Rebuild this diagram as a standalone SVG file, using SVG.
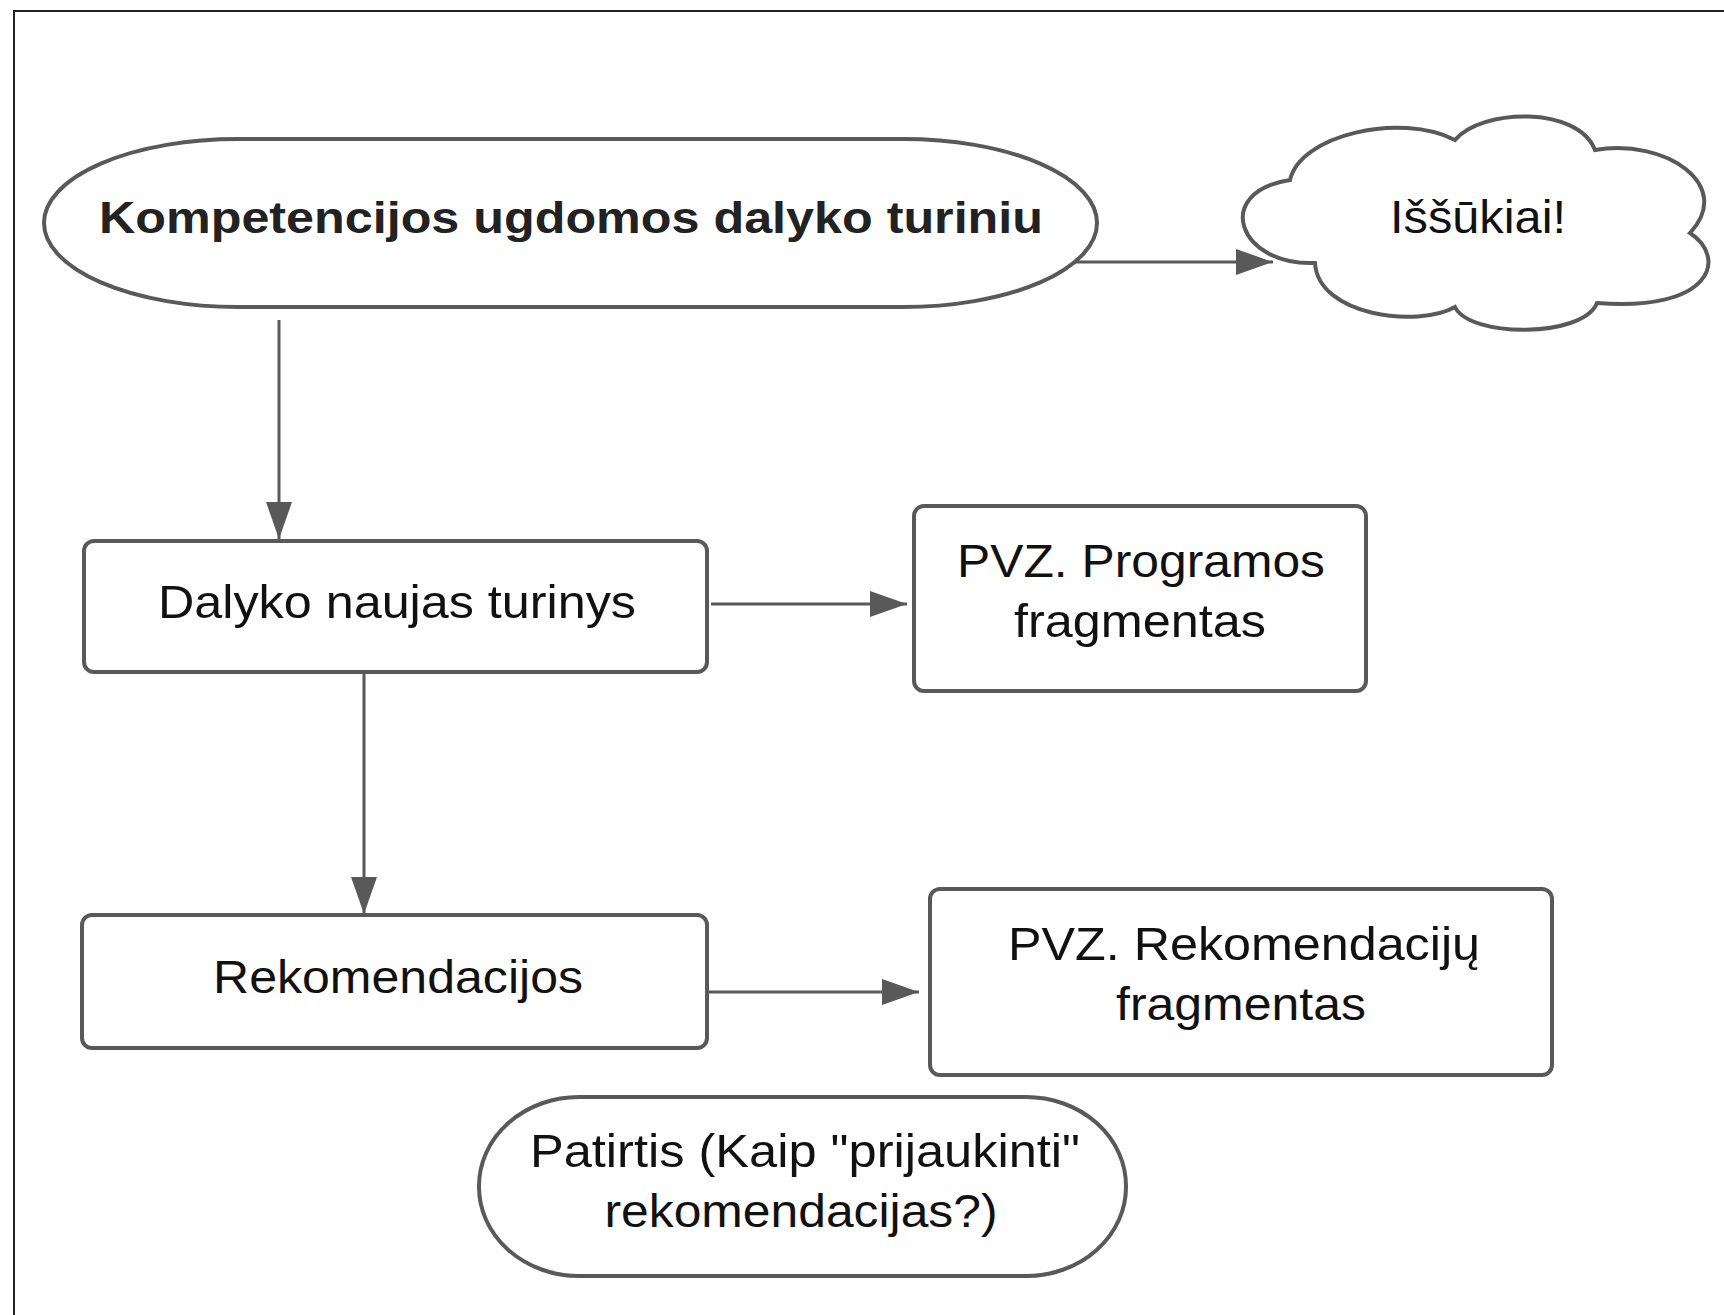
<svg xmlns="http://www.w3.org/2000/svg" width="1724" height="1315" viewBox="0 0 1724 1315">
  <style>
    .shape { fill: #ffffff; stroke: #595959; stroke-width: 4; }
    .edge { fill: none; stroke: #595959; stroke-width: 3; }
    .label { font-family: "Liberation Sans", Arial, sans-serif; font-size: 46px; fill: #111111; text-anchor: middle; }
    .bold { font-weight: bold; font-size: 44px; fill: #222222; }
  </style>
  <defs>
    <marker id="arrow" markerUnits="userSpaceOnUse" markerWidth="38" markerHeight="28" refX="37" refY="13" orient="auto">
      <path d="M0,0 L37,13 L0,26 Z" fill="#595959"/>
    </marker>
  </defs>

  <rect width="1724" height="1315" fill="#ffffff"/>
  <!-- outer frame -->
  <polyline points="14,1320 14,11 1730,11" fill="none" stroke="#222222" stroke-width="2"/>

  <g id="connectors">
    <line class="edge" x1="1070" y1="262" x2="1273" y2="262" marker-end="url(#arrow)"/>
    <line class="edge" x1="279" y1="320" x2="279" y2="539" marker-end="url(#arrow)"/>
    <line class="edge" x1="711" y1="604" x2="907" y2="604" marker-end="url(#arrow)"/>
    <line class="edge" x1="364" y1="672" x2="364" y2="914" marker-end="url(#arrow)"/>
    <line class="edge" x1="709" y1="992" x2="919" y2="992" marker-end="url(#arrow)"/>
  </g>

  <g id="node-kompetencijos">
    <rect class="shape" x="44" y="139" width="1053" height="168" rx="194" ry="84"/>
    <text class="label bold" x="571" y="233" textLength="944" lengthAdjust="spacingAndGlyphs">Kompetencijos ugdomos dalyko turiniu</text>
  </g>

  <g id="node-issukiai">
    <path class="shape" d="M1290,180 C1300,135 1400,112 1455,140 C1482,108 1578,106 1595,150 C1665,138 1735,185 1690,233 C1728,258 1712,312 1597,303 C1583,338 1470,338 1455,307 C1418,328 1318,316 1315,263 C1238,266 1212,192 1290,180 Z"/>
    <text class="label" x="1478" y="233" textLength="176" lengthAdjust="spacingAndGlyphs">Iššūkiai!</text>
  </g>

  <g id="node-dalyko">
    <rect class="shape" x="84" y="541" width="623" height="131" rx="10"/>
    <text class="label" x="397" y="618" textLength="478" lengthAdjust="spacingAndGlyphs">Dalyko naujas turinys</text>
  </g>

  <g id="node-pvz-programos">
    <rect class="shape" x="914" y="506" width="452" height="185" rx="10"/>
    <text class="label" x="1141" y="577" textLength="368" lengthAdjust="spacingAndGlyphs">PVZ. Programos</text>
    <text class="label" x="1140" y="637" textLength="252" lengthAdjust="spacingAndGlyphs">fragmentas</text>
  </g>

  <g id="node-rekomendacijos">
    <rect class="shape" x="82" y="915" width="625" height="133" rx="10"/>
    <text class="label" x="398" y="993" textLength="370" lengthAdjust="spacingAndGlyphs">Rekomendacijos</text>
  </g>

  <g id="node-pvz-rekomendaciju">
    <rect class="shape" x="930" y="889" width="622" height="186" rx="10"/>
    <text class="label" x="1244" y="960" textLength="472" lengthAdjust="spacingAndGlyphs">PVZ. Rekomendacijų</text>
    <text class="label" x="1241" y="1020" textLength="250" lengthAdjust="spacingAndGlyphs">fragmentas</text>
  </g>

  <g id="node-patirtis">
    <rect class="shape" x="479" y="1097" width="647" height="179" rx="100" ry="89"/>
    <text class="label" x="805" y="1167" textLength="550" lengthAdjust="spacingAndGlyphs">Patirtis (Kaip "prijaukinti"</text>
    <text class="label" x="801" y="1227" textLength="393" lengthAdjust="spacingAndGlyphs">rekomendacijas?)</text>
  </g>
</svg>
